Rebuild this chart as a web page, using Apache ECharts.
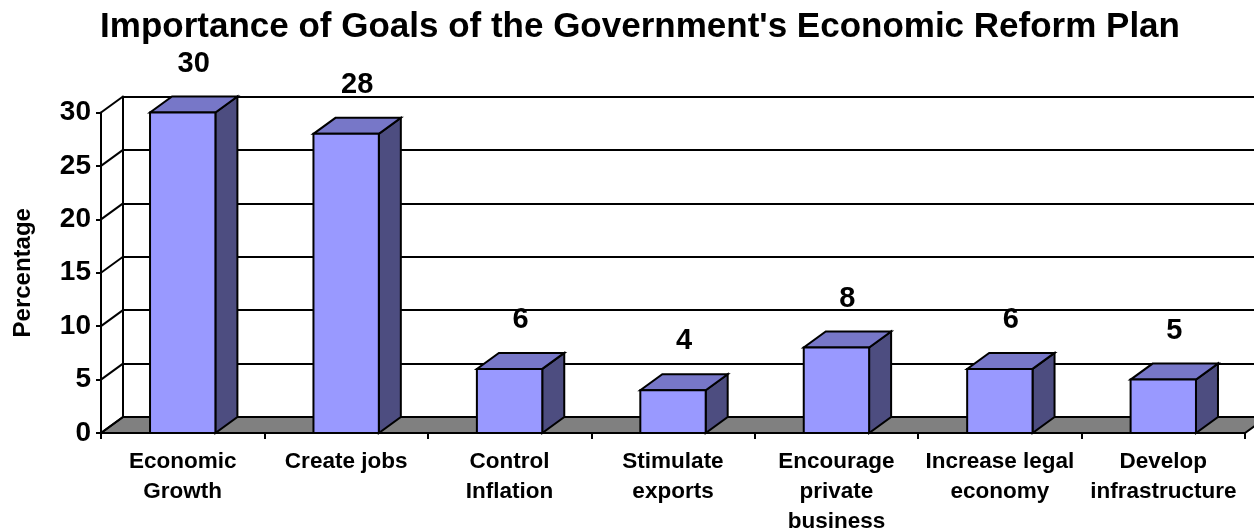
<!DOCTYPE html>
<html>
<head>
<meta charset="utf-8">
<title>Importance of Goals of the Government's Economic Reform Plan</title>
<script src="https://cdn.jsdelivr.net/npm/echarts@6/dist/echarts.min.js"></script>
<style>
  html, body { margin: 0; padding: 0; background: #ffffff; }
  #chart { width: 1254px; height: 529px; }
</style>
</head>
<body>
<div id="chart"></div>
<script>
// Survey results: share of respondents naming each goal
const categories = [
  'Economic\nGrowth',
  'Create jobs',
  'Control\nInflation',
  'Stimulate\nexports',
  'Encourage\nprivate\nbusiness',
  'Increase legal\neconomy',
  'Develop\ninfrastructure'
];
const percentages = [30, 28, 6, 4, 8, 6, 5];
const yTicks = [0, 5, 10, 15, 20, 25, 30];

const FONT = "'Liberation Sans', Arial, Helvetica, sans-serif";
// 3D depth offset of the back wall relative to the front plane
const DX = 22, DY = -16;
const BAR_FRACTION = 0.4;

const GRID_LEFT = 101, GRID_TOP = 112.5, GRID_W = 1144, GRID_H = 320.5;

const chart = echarts.init(document.getElementById('chart'), null, { renderer: 'canvas' });

const option = {
  animation: false,
  backgroundColor: '#ffffff',
  title: {
    text: "Importance of Goals of the Government's Economic Reform Plan",
    left: 635,
    textAlign: 'center',
    top: 5,
    textStyle: { fontFamily: FONT, fontWeight: 'bold', fontSize: 35, color: '#000' }
  },
  grid: [
    { left: GRID_LEFT, top: GRID_TOP, width: GRID_W, height: GRID_H, containLabel: false, outerBoundsMode: 'none' },
    { left: GRID_LEFT + DX, top: GRID_TOP + DY, width: GRID_W, height: GRID_H, containLabel: false, outerBoundsMode: 'none' }
  ],
  xAxis: [
    {
      type: 'category',
      gridIndex: 0,
      data: categories,
      boundaryGap: true,
      axisLine: { show: true, lineStyle: { color: '#000', width: 2 } },
      axisTick: { show: true, length: 6, lineStyle: { color: '#000', width: 2 } },
      axisLabel: {
        margin: 14,
        interval: 0,
        fontFamily: FONT,
        fontWeight: 'bold',
        fontSize: 22.5,
        lineHeight: 30,
        color: '#000'
      },
      splitLine: { show: false },
      z: 5
    },
    {
      type: 'category',
      gridIndex: 1,
      data: categories,
      show: false
    }
  ],
  yAxis: [
    {
      type: 'value',
      gridIndex: 0,
      min: 0,
      max: 30,
      interval: 5,
      name: 'Percentage',
      nameLocation: 'middle',
      nameRotate: 90,
      nameGap: 66,
      nameTextStyle: { fontFamily: FONT, fontWeight: 'bold', fontSize: 24, color: '#000' },
      axisLine: { show: true, lineStyle: { color: '#000', width: 2 } },
      axisTick: { show: true, length: 5, lineStyle: { color: '#000', width: 2 } },
      axisLabel: { margin: 10, fontFamily: FONT, fontWeight: 'bold', fontSize: 28, color: '#000' },
      splitLine: { show: false }
    },
    {
      // back wall: vertical edge and horizontal gridlines
      type: 'value',
      gridIndex: 1,
      min: 0,
      max: 30,
      interval: 5,
      axisLine: { show: true, lineStyle: { color: '#000', width: 2 } },
      axisTick: { show: false },
      axisLabel: { show: false },
      splitLine: { show: true, lineStyle: { color: '#000', width: 2, type: 'solid' } }
    }
  ],
  series: [
    {
      // grey floor plane
      type: 'custom',
      xAxisIndex: 0,
      yAxisIndex: 0,
      z: 2,
      silent: true,
      data: [[0, 0]],
      renderItem: function (params, api) {
        const cs = params.coordSys;
        const y0 = api.coord([0, 0])[1];
        return {
          type: 'polygon',
          shape: {
            points: [
              [cs.x, y0],
              [cs.x + cs.width, y0],
              [cs.x + cs.width + DX, y0 + DY],
              [cs.x + DX, y0 + DY]
            ]
          },
          style: { fill: '#808080', stroke: '#000', lineWidth: 2 }
        };
      }
    },
    {
      // left side wall edges joining front axis ticks to back wall gridlines
      type: 'custom',
      xAxisIndex: 0,
      yAxisIndex: 0,
      z: 3,
      silent: true,
      data: yTicks.map(function (v) { return [0, v]; }),
      renderItem: function (params, api) {
        const cs = params.coordSys;
        const y = api.coord([0, api.value(1)])[1];
        return {
          type: 'line',
          shape: { x1: cs.x, y1: y, x2: cs.x + DX, y2: y + DY },
          style: { stroke: '#000', lineWidth: 2 }
        };
      }
    },
    {
      // 3D columns with value labels
      type: 'custom',
      xAxisIndex: 0,
      yAxisIndex: 0,
      z: 4,
      data: percentages.map(function (v, i) { return [i, v]; }),
      renderItem: function (params, api) {
        const idx = api.value(0);
        const v = api.value(1);
        const top = api.coord([idx, v]);
        const base = api.coord([idx, 0]);
        const bw = api.size([1, 0])[0] * BAR_FRACTION;
        const x0 = top[0] - bw / 2, x1 = top[0] + bw / 2;
        const yT = top[1], yB = base[1];
        const stroke = { stroke: '#000', lineWidth: 2, lineJoin: 'miter' };
        return {
          type: 'group',
          children: [
            {
              type: 'polygon',
              shape: { points: [[x1, yT], [x1 + DX, yT + DY], [x1 + DX, yB + DY], [x1, yB]] },
              style: Object.assign({ fill: '#4D4D80' }, stroke)
            },
            {
              type: 'polygon',
              shape: { points: [[x0, yT], [x1, yT], [x1 + DX, yT + DY], [x0 + DX, yT + DY]] },
              style: Object.assign({ fill: '#7777C8' }, stroke)
            },
            {
              type: 'rect',
              shape: { x: x0, y: yT, width: bw, height: yB - yT },
              style: Object.assign({ fill: '#9999FF' }, stroke)
            },
            {
              type: 'text',
              x: top[0] + DX / 2,
              y: yT + DY - 33,
              style: {
                text: String(v),
                fontFamily: FONT,
                fontWeight: 'bold',
                fontSize: 29,
                fill: '#000',
                align: 'center',
                verticalAlign: 'middle'
              }
            }
          ]
        };
      }
    }
  ]
};

chart.setOption(option);
</script>
</body>
</html>
